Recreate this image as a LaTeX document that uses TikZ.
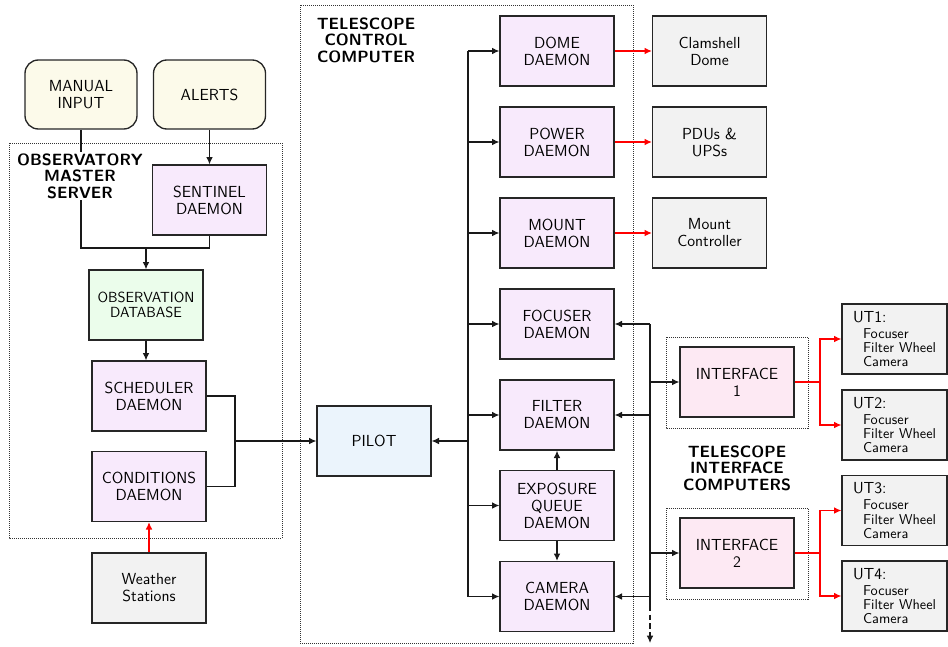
\documentclass[tikz,border=0pt]{standalone}
\usetikzlibrary{arrows.meta}
\definecolor{daemoncol}{HTML}{F8EAFC}
\definecolor{hwcol}{HTML}{F2F2F2}
\definecolor{inputcol}{HTML}{FCFAEA}
\definecolor{dbcol}{HTML}{EBFDEB}
\definecolor{pilotcol}{HTML}{EBF4FC}
\definecolor{ifacecol}{HTML}{FDE9F3}
\begin{document}
\begin{tikzpicture}[x=0.75pt, y=-0.75pt,
	box/.style={draw=black!85, line width=1pt, minimum width=85.5pt, minimum height=52.5pt,
		align=center, inner sep=2pt, font=\fontsize{12}{12.75}\selectfont\sffamily},
	daemon/.style={box, fill=daemoncol},
	hardware/.style={box, fill=hwcol},
	inputbox/.style={box, fill=inputcol, rounded corners=10pt, minimum width=84pt, minimum height=51.75pt},
	dbbox/.style={box, fill=dbcol, font=\fontsize{11}{11.5}\selectfont\sffamily},
	pilotbox/.style={box, fill=pilotcol},
	iface/.style={box, fill=ifacecol},
	utbox/.style={box, fill=hwcol, minimum width=78.75pt, align=left, font=\fontsize{10.7}{10.6}\selectfont\sffamily},
	grouptitle/.style={align=center, inner sep=1pt, font=\fontsize{12.2}{12.4}\selectfont\sffamily\bfseries},
	groupbox/.style={line width=0.7pt, dash pattern=on 0.75pt off 0.75pt, black!80},
	line/.style={line width=0.8pt, black!90},
	arrow/.style={line, -{Latex[length=5.5pt,width=5pt]}},
	redline/.style={line width=0.8pt, red},
	redarrow/.style={redline, -{Latex[length=5.5pt,width=5pt]}}]
	\useasboundingbox (0,0) rectangle (948,646);

	% observatory master server
	\draw[groupbox] (9,143) rectangle (282,538);
	\node [inputbox] (manual) at (81,94.5) {MANUAL\\INPUT};
	\node [inputbox] (alerts) at (209.5,94.5) {ALERTS};
	\node [daemon] (sentinel) at (209.5,200) {SENTINEL\\DAEMON};
	\node [dbbox] (obsdb) at (146,305) {OBSERVATION\\DATABASE};
	\node [daemon] (scheduler) at (149,396) {SCHEDULER\\DAEMON};
	\node [daemon] (conditions) at (149,486.5) {CONDITIONS\\DAEMON};
	\node [hardware] (weather) at (149,588) {Weather\\Stations};
	\coordinate (dbjoin) at (146,248);
	\draw[line] (manual.south) |- (sentinel.south |- dbjoin) -- (sentinel.south);
	\node [grouptitle, fill=white] (omstitle) at (80,176) {OBSERVATORY\\MASTER\\SERVER};
	\draw[arrow] (alerts) -- (sentinel);
	\draw[arrow] (dbjoin) -- (obsdb.north);
	\draw[arrow] (obsdb.south) -- (obsdb.south |- scheduler.north);
	\draw[redarrow] (weather) -- (conditions);

	% telescope control computer
	\draw[groupbox] (300,5) rectangle (633,643);
	\node [grouptitle] (tcctitle) at (366,40) {TELESCOPE\\CONTROL\\COMPUTER};
	\node [pilotbox] (pilot) at (374,441) {PILOT};
	\coordinate (schedjoin) at (235,441);
	\draw[line] (scheduler.east) -| (schedjoin) |- (conditions.east);
	\draw[arrow] (schedjoin) -- (pilot.west);

	\node [daemon] (dome) at (557,51) {DOME\\DAEMON};
	\node [daemon] (power) at (557,142) {POWER\\DAEMON};
	\node [daemon] (mount) at (557,233) {MOUNT\\DAEMON};
	\node [daemon] (focuser) at (557,324) {FOCUSER\\DAEMON};
	\node [daemon] (filter) at (557,415) {FILTER\\DAEMON};
	\node [daemon] (exposure) at (557,505.5) {EXPOSURE\\QUEUE\\DAEMON};
	\node [daemon] (camera) at (557,596.5) {CAMERA\\DAEMON};

	\coordinate (pbus) at (468,441);
	\draw[line] (pbus |- dome.west) -- (pbus |- camera.west);
	\draw[arrow] (pbus) -- (pilot.east);
	\foreach \d in {dome,power,mount,focuser,filter,exposure,camera}
		\draw[arrow] (pbus |- \d.west) -- (\d.west);
	\draw[arrow] (exposure) -- (filter);
	\draw[arrow] (exposure) -- (camera);

	% hardware
	\node [hardware] (clamshell) at (709.5,51) {Clamshell\\Dome};
	\node [hardware] (pdus) at (709.5,142) {PDUs \&\\UPSs};
	\node [hardware] (mountctrl) at (709.5,233) {Mount\\Controller};
	\draw[redarrow] (dome) -- (clamshell);
	\draw[redarrow] (power) -- (pdus);
	\draw[redarrow] (mount) -- (mountctrl);

	% telescope interface computers
	\draw[groupbox] (666,337) rectangle (808,428);
	\draw[groupbox] (666,508) rectangle (808,599);
	\node [grouptitle] (tictitle) at (737,468) {TELESCOPE\\INTERFACE\\COMPUTERS};
	\node [iface] (iface1) at (737,382) {INTERFACE\\1};
	\node [iface] (iface2) at (737,553) {INTERFACE\\2};

	\coordinate (tbus) at (650,606);
	\coordinate (tbusend) at (650,643);
	\draw[line] (tbus |- focuser.east) -- (tbus);
	\draw[arrow, dash pattern=on 4pt off 2.5pt] (tbus) -- (tbusend);
	\foreach \d in {focuser,filter,camera}
		\draw[arrow] (tbus |- \d.east) -- (\d.east);
	\draw[arrow] (tbus |- iface1.west) -- (iface1.west);
	\draw[arrow] (tbus |- iface2.west) -- (iface2.west);

	% unit telescopes
	\node [utbox] (ut1) at (894.5,339) {{\fontsize{12}{12}\selectfont UT1:}\\[1.5pt]\hspace*{7.5pt}Focuser\\\hspace*{7.5pt}Filter Wheel\\\hspace*{7.5pt}Camera};
	\node [utbox] (ut2) at (894.5,425) {{\fontsize{12}{12}\selectfont UT2:}\\[1.5pt]\hspace*{7.5pt}Focuser\\\hspace*{7.5pt}Filter Wheel\\\hspace*{7.5pt}Camera};
	\node [utbox] (ut3) at (894.5,510.5) {{\fontsize{12}{12}\selectfont UT3:}\\[1.5pt]\hspace*{7.5pt}Focuser\\\hspace*{7.5pt}Filter Wheel\\\hspace*{7.5pt}Camera};
	\node [utbox] (ut4) at (894.5,596) {{\fontsize{12}{12}\selectfont UT4:}\\[1.5pt]\hspace*{7.5pt}Focuser\\\hspace*{7.5pt}Filter Wheel\\\hspace*{7.5pt}Camera};
	\coordinate (split1) at (820,382);
	\coordinate (split2) at (820,553);
	\draw[redline] (iface1.east) -- (split1);
	\draw[redarrow] (split1) |- (ut1.west);
	\draw[redarrow] (split1) |- (ut2.west);
	\draw[redline] (iface2.east) -- (split2);
	\draw[redarrow] (split2) |- (ut3.west);
	\draw[redarrow] (split2) |- (ut4.west);
\end{tikzpicture}
\end{document}
